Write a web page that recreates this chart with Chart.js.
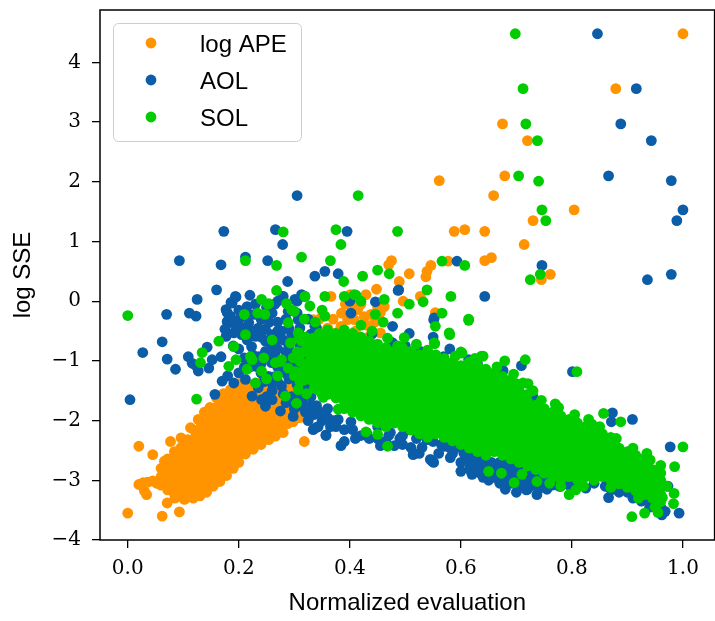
<!DOCTYPE html>
<html>
<head>
<meta charset="utf-8">
<script src="https://cdn.jsdelivr.net/npm/chart.js@4.4.1/dist/chart.umd.min.js"></script>
<style>
html, body { margin: 0; padding: 0; overflow: hidden; background: #fff; }
#wrap { width: 720px; height: 621px; }
</style>
</head>
<body>
<div id="wrap"><canvas id="chart" width="720" height="621"></canvas></div>
<script>
// Series names and colours (legend order)
const seriesNames = ['log APE', 'AOL', 'SOL'];
const seriesColors = ['#ff9300', '#0b5da8', '#00cc00'];

// Axis ticks
const xTicks = [0, 0.2, 0.4, 0.6, 0.8, 1.0];
const xTickLabels = ['0.0', '0.2', '0.4', '0.6', '0.8', '1.0'];
const yTicks = [-4, -3, -2, -1, 0, 1, 2, 3, 4];
const yTickLabels = ['\u22124', '\u22123', '\u22122', '\u22121', '0', '1', '2', '3', '4'];

// log APE: solid diagonal band, read column by column [x, [y...]]
const apeBand = [
    [0.060, [-2.80, -2.94, -3.08]],
    [0.072, [-2.64, -2.78, -2.92, -3.06, -3.16]],
    [0.084, [-2.52, -2.66, -2.80, -2.94, -3.08, -3.22]],
    [0.096, [-2.45, -2.59, -2.73, -2.87, -3.01, -3.15, -3.26]],
    [0.108, [-2.32, -2.46, -2.60, -2.74, -2.88, -3.02, -3.16, -3.26]],
    [0.120, [-2.16, -2.30, -2.44, -2.58, -2.72, -2.86, -3.00, -3.14, -3.22]],
    [0.132, [-2.03, -2.17, -2.31, -2.45, -2.59, -2.73, -2.87, -3.01, -3.15]],
    [0.144, [-1.88, -2.02, -2.16, -2.30, -2.44, -2.58, -2.72, -2.86, -3.00, -3.10]],
    [0.156, [-1.79, -1.93, -2.07, -2.21, -2.35, -2.49, -2.63, -2.77, -2.91, -3.00]],
    [0.168, [-1.68, -1.82, -1.96, -2.10, -2.24, -2.38, -2.52, -2.66, -2.80, -2.90]],
    [0.180, [-1.61, -1.75, -1.89, -2.03, -2.17, -2.31, -2.45, -2.59, -2.73, -2.80]],
    [0.192, [-1.52, -1.66, -1.80, -1.94, -2.08, -2.22, -2.36, -2.50, -2.64]],
    [0.204, [-1.47, -1.61, -1.75, -1.89, -2.03, -2.17, -2.31, -2.45, -2.56]],
    [0.216, [-1.42, -1.56, -1.70, -1.84, -1.98, -2.12, -2.26, -2.40]],
    [0.228, [-1.39, -1.53, -1.67, -1.81, -1.95, -2.09, -2.23, -2.36]],
    [0.240, [-1.36, -1.50, -1.64, -1.78, -1.92, -2.06, -2.20, -2.30]],
    [0.252, [-1.40, -1.54, -1.68, -1.82, -1.96, -2.10, -2.22]],
    [0.264, [-1.38, -1.52, -1.66, -1.80, -1.94, -2.08, -2.18]],
    [0.276, [-1.45, -1.59, -1.73, -1.87, -2.01, -2.10]],
    [0.288, [-1.50, -1.64, -1.78, -1.92, -2.02]],
    [0.300, [-1.58, -1.72, -1.86]]
];

const apeEdge = [
    [0.020, -3.07], [0.028, -3.04], [0.036, -3.03], [0.045, -3.01], [0.052, -3.05], [0.034, -3.24],
    [0.030, -3.18], [0.000, -3.55], [0.020, -2.43], [0.045, -2.57], [0.062, -3.60], [0.071, -3.38],
    [0.093, -3.53], [0.077, -2.35], [0.096, -2.29], [0.066, -2.68], [0.113, -2.12], [0.127, -1.98],
    [0.138, -1.86], [0.148, -1.78], [0.160, -1.62], [0.172, -1.55], [0.085, -3.30], [0.102, -3.32],
    [0.118, -3.30], [0.130, -3.26], [0.142, -3.20], [0.154, -3.10], [0.166, -3.02], [0.178, -2.92],
    [0.190, -2.80], [0.200, -2.70], [0.212, -2.56], [0.226, -2.48], [0.240, -2.40], [0.254, -2.32],
    [0.266, -2.26], [0.280, -2.20], [0.288, -2.05], [0.298, -2.02], [0.310, -1.95], [0.318, -1.80],
    [0.312, -1.64], [0.295, -1.40], [0.318, -2.35], [0.337, -1.82], [0.319, -1.31], [0.305, -1.50],
    [0.330, -1.20], [0.345, -1.05], [0.362, -0.90], [0.340, -1.45], [0.358, -1.28], [0.385, -0.92],
    [0.410, -0.78], [0.150, -3.05], [0.241, -0.42], [0.200, -1.38], [0.185, -1.48]
];

const apeUpper = [
    [1.000, 4.48], [0.879, 3.56], [0.675, 2.97], [0.720, 2.69], [0.561, 2.02], [0.679, 2.10],
    [0.659, 1.77], [0.804, 1.53], [0.730, 1.35], [0.588, 1.17], [0.607, 1.20], [0.643, 1.17],
    [0.714, 0.95], [0.475, 0.68], [0.470, 0.61], [0.577, 0.67], [0.643, 0.68], [0.655, 0.73],
    [0.546, 0.60], [0.539, 0.50], [0.537, 0.41], [0.507, 0.46], [0.489, 0.33], [0.745, 0.36],
    [0.761, 0.45], [0.448, 0.20], [0.429, 0.11], [0.527, 0.08], [0.496, 0.00], [0.462, -0.09],
    [0.455, -0.19], [0.554, -0.19], [0.366, 0.08], [0.401, 0.11], [0.414, -0.14], [0.426, -0.26],
    [0.438, -0.22], [0.408, -0.31], [0.450, -0.11], [0.455, -0.53], [0.384, -0.42], [0.396, -0.31],
    [0.375, -0.53], [0.334, -0.31], [0.420, -0.05], [0.392, -0.05], [0.430, -0.40], [0.445, -0.35],
    [0.384, -0.56], [0.435, -0.59], [0.410, -0.50], [0.360, -0.45], [0.350, -0.65], [0.345, -0.30],
    [0.320, -0.60], [0.385, -0.20], [0.370, -0.30], [0.405, -0.05]
];

// AOL
const aolSparse = [
    [0.846, 4.48], [0.916, 3.56], [0.888, 2.97], [0.943, 2.69], [0.866, 2.10], [0.979, 2.02],
    [1.000, 1.53], [0.989, 1.35], [0.593, 0.67], [0.746, 0.60], [0.936, 0.36], [0.979, 0.45],
    [0.643, 0.08], [0.488, 0.19], [0.446, -0.01], [0.552, -0.28], [0.305, 1.77], [0.173, 1.17],
    [0.266, 1.20], [0.279, 0.95], [0.395, 1.17], [0.093, 0.68], [0.168, 0.61], [0.212, 0.74],
    [0.252, 0.68], [0.337, 0.42], [0.355, 0.50], [0.379, 0.46], [0.288, 0.33], [0.160, 0.19],
    [0.125, 0.03], [0.194, 0.08], [0.220, 0.10], [0.279, 0.08], [0.305, 0.00], [0.313, 0.11],
    [0.402, -0.20], [0.400, 0.00], [0.070, -0.22], [0.111, -0.20], [0.123, -0.25], [0.004, -1.65],
    [0.027, -0.86], [0.062, -0.68], [0.071, -0.97], [0.086, -1.14], [0.109, -0.93], [0.123, -1.08],
    [0.127, -1.17], [0.143, -0.77], [0.146, -1.12], [0.152, -0.98], [0.157, -1.56], [0.170, -1.34],
    [0.168, -0.93], [0.116, -1.04], [0.487, 0.18], [0.319, 0.08]
];

const aolCluster = [
    [0.177, -0.59], [0.182, -0.36], [0.179, -0.19], [0.188, -0.03], [0.198, -0.36], [0.215, -0.09],
    [0.186, -0.02], [0.195, 0.07], [0.177, -0.14], [0.200, -0.31], [0.218, -0.36], [0.179, -0.34],
    [0.175, -0.47], [0.191, -0.53], [0.205, -0.56], [0.230, -0.59], [0.248, -0.47], [0.259, -0.56],
    [0.277, -0.50], [0.280, 0.08], [0.301, 0.03], [0.289, -0.17], [0.307, -0.31], [0.223, -0.76],
    [0.248, -0.67], [0.271, -0.64], [0.236, -0.93], [0.248, -0.84], [0.259, -1.03], [0.230, -1.09],
    [0.284, -0.98], [0.301, -0.87], [0.254, -1.26], [0.280, -1.17], [0.301, -1.26], [0.259, -1.37],
    [0.277, -1.42], [0.212, -1.31], [0.191, -1.37], [0.224, -1.59], [0.248, -1.76], [0.241, -1.65],
    [0.266, -1.26], [0.275, -1.84], [0.298, -1.93], [0.307, -1.76], [0.320, -1.86], [0.334, -2.15],
    [0.343, -2.10], [0.357, -2.24], [0.384, -2.42], [0.214, -0.20], [0.240, -0.30], [0.260, -0.20],
    [0.270, -0.35], [0.290, -0.45], [0.300, -0.60], [0.310, -0.75], [0.320, -0.90], [0.315, -1.05],
    [0.320, -1.20], [0.325, -1.40], [0.310, -1.55], [0.330, -1.60], [0.340, -1.75], [0.200, -0.80],
    [0.210, -0.95], [0.220, -1.10], [0.240, -1.20], [0.270, -1.10], [0.290, -0.75], [0.260, -0.75],
    [0.235, -0.45], [0.285, -0.30], [0.265, -0.90], [0.290, -1.30], [0.260, -1.50], [0.235, -1.45],
    [0.200, -1.20], [0.180, -1.25], [0.190, -0.75], [0.215, -0.65], [0.300, -1.10], [0.310, -0.45],
    [0.330, -0.55], [0.325, -0.30], [0.340, -0.45], [0.350, -0.60], [0.330, -1.00], [0.345, -1.30],
    [0.350, -1.55], [0.360, -1.80], [0.370, -2.00], [0.365, -2.10], [0.313, -0.76], [0.325, -0.87],
    [0.319, -1.09], [0.337, -0.42], [0.250, -0.10], [0.228, -0.22], [0.265, -0.05], [0.295, -1.60],
    [0.285, -1.70], [0.250, -1.60], [0.185, -0.25], [0.195, -0.45], [0.210, -0.45], [0.225, -0.50],
    [0.240, -0.60], [0.255, -0.35], [0.270, -0.50], [0.280, -0.65], [0.295, -0.55], [0.305, -0.20],
    [0.315, -0.60], [0.285, -0.85], [0.270, -0.80], [0.255, -0.95], [0.240, -1.05], [0.225, -0.90],
    [0.210, -1.10], [0.245, -1.35], [0.270, -1.35], [0.285, -1.20], [0.295, -1.00], [0.305, -1.40],
    [0.320, -1.50], [0.315, -1.70], [0.300, -1.80], [0.260, -1.65], [0.280, -1.55], [0.335, -1.90],
    [0.350, -2.00], [0.325, -2.00], [0.200, -0.15], [0.230, -0.05], [0.270, 0.00]
];

const aolUnder = [
    [0.339, -2.12], [0.357, -2.25], [0.455, -2.42], [0.514, -2.57], [0.545, -2.65], [0.551, -2.70],
    [0.571, -2.43], [0.581, -2.62], [0.616, -2.79], [0.632, -2.87], [0.355, -1.90], [0.402, -2.02],
    [0.379, -1.98], [0.426, -1.87], [0.450, -2.10], [0.473, -2.20], [0.504, -2.15], [0.539, -2.32],
    [0.571, -2.30], [0.605, -2.54], [0.459, -2.40], [0.548, -2.68], [0.516, -2.55], [0.490, -2.30],
    [0.600, -2.70], [0.620, -2.60], [0.590, -2.45], [0.530, -2.45], [0.430, -2.20], [0.410, -2.30],
    [0.390, -2.15], [0.330, -1.75], [0.345, -1.85], [0.360, -1.95], [0.375, -2.10], [0.390, -2.35],
    [0.405, -2.15], [0.420, -2.25], [0.435, -2.30], [0.450, -2.30], [0.465, -2.35], [0.480, -2.42],
    [0.495, -2.40], [0.510, -2.45], [0.525, -2.55], [0.560, -2.55], [0.585, -2.55], [0.615, -2.65],
    [0.630, -2.75], [0.645, -2.80], [0.660, -2.82], [0.660, -2.95], [0.675, -2.85], [0.690, -2.90],
    [0.690, -3.05], [0.705, -2.95], [0.720, -3.00], [0.720, -3.15], [0.735, -3.05], [0.750, -3.05],
    [0.765, -3.08], [0.780, -3.10], [0.795, -3.08], [0.810, -3.06], [0.840, -3.05], [0.870, -3.15],
    [0.885, -3.20], [0.900, -3.20], [0.915, -3.25], [0.930, -3.30], [0.945, -3.38], [0.960, -3.45],
    [0.477, -0.70], [0.530, -0.86], [0.569, -0.93], [0.614, -0.98], [0.507, -0.54], [0.477, -0.42],
    [0.527, -0.84], [0.551, -0.31], [0.475, -0.69], [0.655, -1.26], [0.440, -0.55], [0.500, -0.75],
    [0.550, -0.60], [0.580, -0.80], [0.630, -1.05], [0.460, -0.90], [0.520, -1.00],
    [0.685, -2.75], [0.695, -2.80], [0.705, -2.90], [0.715, -2.82], [0.725, -2.95], [0.735, -2.90],
    [0.745, -2.95], [0.725, -3.10], [0.740, -3.15], [0.710, -3.10], [0.755, -3.15], [0.765, -3.00],
    [0.670, -2.70], [0.655, -2.70], [0.640, -2.65], [0.625, -2.60], [0.605, -2.50], [0.580, -2.45],
    [0.565, -2.40], [0.550, -2.35], [0.600, -2.85], [0.620, -2.90], [0.650, -3.00], [0.670, -3.05],
    [0.680, -3.15], [0.700, -3.20], [0.495, -2.25], [0.520, -2.30], [0.470, -2.25]
];

const aolRight = [
    [0.676, -1.16], [0.709, -1.08], [0.663, -1.37], [0.801, -1.18], [0.873, -1.87], [0.871, -2.02],
    [0.909, -1.98], [0.977, -2.44], [0.864, -2.32], [0.682, -2.99], [0.718, -3.16], [0.737, -3.24],
    [0.700, -3.02], [0.727, -2.85], [0.754, -3.07], [0.777, -3.10], [0.802, -2.96], [0.866, -3.29],
    [0.825, -3.13], [0.891, -2.99], [0.920, -2.93], [0.932, -3.19], [0.945, -3.24], [0.953, -3.38],
    [0.973, -3.10], [0.968, -3.52], [0.962, -3.58], [0.993, -3.55], [0.659, -2.94], [0.682, -2.70],
    [0.855, -2.26], [0.730, -1.60], [0.691, -3.04], [0.632, -2.85], [0.616, -2.82], [0.730, -1.82],
    [0.679, -2.20], [0.640, -2.95], [0.700, -2.85], [0.715, -3.05], [0.745, -3.00], [0.760, -2.90],
    [0.790, -3.05], [0.860, -3.10], [0.875, -3.15], [0.910, -3.30], [0.925, -3.35], [0.940, -3.45],
    [0.955, -3.50], [0.950, -3.30], [0.935, -3.10], [0.948, -3.38]
];

// SOL: solid core read column by column [x, [y...]]
const solCore = [
    [0.318, [-0.84, -1.08, -1.32]],
    [0.330, [-0.72, -0.84, -0.96, -1.08, -1.20, -1.32]],
    [0.345, [-0.54, -0.66, -0.78, -0.90, -1.02, -1.14, -1.26, -1.38, -1.50]],
    [0.360, [-0.48, -0.60, -0.72, -0.84, -0.96, -1.08, -1.20, -1.32, -1.44, -1.56]],
    [0.375, [-0.54, -0.66, -0.78, -0.90, -1.02, -1.14, -1.26, -1.38, -1.50, -1.62]],
    [0.390, [-0.48, -0.60, -0.72, -0.84, -0.96, -1.08, -1.20, -1.32, -1.44, -1.56, -1.68, -1.80]],
    [0.405, [-0.54, -0.66, -0.78, -0.90, -1.02, -1.14, -1.26, -1.38, -1.50, -1.62, -1.74, -1.86]],
    [0.420, [-0.60, -0.72, -0.84, -0.96, -1.08, -1.20, -1.32, -1.44, -1.56, -1.68, -1.80, -1.92]],
    [0.435, [-0.66, -0.78, -0.90, -1.02, -1.14, -1.26, -1.38, -1.50, -1.62, -1.74, -1.86, -1.98]],
    [0.450, [-0.72, -0.84, -0.96, -1.08, -1.20, -1.32, -1.44, -1.56, -1.68, -1.80, -1.92, -2.04]],
    [0.465, [-0.78, -0.90, -1.02, -1.14, -1.26, -1.38, -1.50, -1.62, -1.74, -1.86, -1.98, -2.10]],
    [0.480, [-0.84, -0.96, -1.08, -1.20, -1.32, -1.44, -1.56, -1.68, -1.80, -1.92, -2.04]],
    [0.495, [-0.90, -1.02, -1.14, -1.26, -1.38, -1.50, -1.62, -1.74, -1.86, -1.98, -2.10]],
    [0.510, [-0.84, -0.96, -1.08, -1.20, -1.32, -1.44, -1.56, -1.68, -1.80, -1.92, -2.04, -2.16]],
    [0.525, [-0.90, -1.02, -1.14, -1.26, -1.38, -1.50, -1.62, -1.74, -1.86, -1.98, -2.10, -2.22]],
    [0.540, [-0.96, -1.08, -1.20, -1.32, -1.44, -1.56, -1.68, -1.80, -1.92, -2.04, -2.16, -2.28]],
    [0.555, [-0.90, -1.02, -1.14, -1.26, -1.38, -1.50, -1.62, -1.74, -1.86, -1.98, -2.10, -2.22]],
    [0.570, [-0.96, -1.08, -1.20, -1.32, -1.44, -1.56, -1.68, -1.80, -1.92, -2.04, -2.16, -2.28]],
    [0.585, [-1.02, -1.14, -1.26, -1.38, -1.50, -1.62, -1.74, -1.86, -1.98, -2.10, -2.22, -2.34]],
    [0.600, [-1.08, -1.20, -1.32, -1.44, -1.56, -1.68, -1.80, -1.92, -2.04, -2.16, -2.28, -2.40]],
    [0.615, [-1.02, -1.14, -1.26, -1.38, -1.50, -1.62, -1.74, -1.86, -1.98, -2.10, -2.22, -2.34, -2.46]],
    [0.630, [-1.08, -1.20, -1.32, -1.44, -1.56, -1.68, -1.80, -1.92, -2.04, -2.16, -2.28, -2.40, -2.52]],
    [0.645, [-1.14, -1.26, -1.38, -1.50, -1.62, -1.74, -1.86, -1.98, -2.10, -2.22, -2.34, -2.46, -2.58]],
    [0.660, [-1.20, -1.32, -1.44, -1.56, -1.68, -1.80, -1.92, -2.04, -2.16, -2.28, -2.40, -2.52]],
    [0.675, [-1.26, -1.38, -1.50, -1.62, -1.74, -1.86, -1.98, -2.10, -2.22, -2.34, -2.46, -2.58]],
    [0.690, [-1.32, -1.44, -1.56, -1.68, -1.80, -1.92, -2.04, -2.16, -2.28, -2.40, -2.52, -2.64]],
    [0.705, [-1.50, -1.62, -1.74, -1.86, -1.98, -2.10, -2.22, -2.34, -2.46, -2.58, -2.70]],
    [0.720, [-1.56, -1.68, -1.80, -1.92, -2.04, -2.16, -2.28, -2.40, -2.52, -2.64, -2.76]],
    [0.735, [-1.74, -1.86, -1.98, -2.10, -2.22, -2.34, -2.46, -2.58, -2.70, -2.82]],
    [0.750, [-1.80, -1.92, -2.04, -2.16, -2.28, -2.40, -2.52, -2.64, -2.76, -2.88]],
    [0.765, [-1.86, -1.98, -2.10, -2.22, -2.34, -2.46, -2.58, -2.70, -2.82, -2.94]],
    [0.780, [-1.92, -2.04, -2.16, -2.28, -2.40, -2.52, -2.64, -2.76, -2.88, -3.00]],
    [0.795, [-1.98, -2.10, -2.22, -2.34, -2.46, -2.58, -2.70, -2.82, -2.94]],
    [0.810, [-2.04, -2.16, -2.28, -2.40, -2.52, -2.64, -2.76, -2.88, -3.00]],
    [0.825, [-2.10, -2.22, -2.34, -2.46, -2.58, -2.70, -2.82, -2.94]],
    [0.840, [-2.16, -2.28, -2.40, -2.52, -2.64, -2.76, -2.88, -3.00]],
    [0.855, [-2.22, -2.34, -2.46, -2.58, -2.70, -2.82, -2.94]],
    [0.870, [-2.28, -2.40, -2.52, -2.64, -2.76, -2.88, -3.00]],
    [0.885, [-2.46, -2.58, -2.70, -2.82, -2.94, -3.06]],
    [0.900, [-2.52, -2.64, -2.76, -2.88, -3.00, -3.12]],
    [0.915, [-2.58, -2.70, -2.82, -2.94, -3.06, -3.18]],
    [0.930, [-2.64, -2.76, -2.88, -3.00, -3.12, -3.24]],
    [0.945, [-2.82, -2.94, -3.06, -3.18, -3.30]],
    [0.960, [-2.88, -3.00, -3.12, -3.24, -3.36]]
];

const solEdge = [
    [0.554, -0.42], [0.580, -0.56], [0.553, -0.71], [0.600, -0.85], [0.637, -0.92], [0.659, -1.26],
    [0.629, -1.09], [0.486, -0.75], [0.498, -0.61], [0.446, -0.22], [0.579, -0.53], [0.614, -0.32],
    [0.552, -0.70], [0.602, -0.87], [0.679, -1.00], [0.716, -0.98], [0.809, -1.18], [0.657, -1.28],
    [0.721, -1.38], [0.687, -1.51], [0.857, -1.88], [0.888, -2.02], [0.836, -2.06], [0.776, -1.78],
    [0.640, -0.92], [0.630, -1.09], [0.679, -1.45], [0.712, -1.37], [0.775, -1.79], [0.834, -2.06],
    [0.741, -1.96], [0.855, -2.30], [0.873, -2.60], [0.902, -2.57], [0.923, -2.69], [0.941, -2.66],
    [0.955, -2.94], [0.971, -3.10], [0.963, -3.29], [0.984, -3.22], [1.000, -2.44], [0.985, -2.77],
    [0.983, -3.39], [0.908, -3.61], [0.931, -3.55], [0.955, -3.54], [0.904, -3.04], [0.696, -3.04],
    [0.737, -3.02], [0.795, -3.24], [0.807, -3.16], [0.673, -2.88], [0.821, -3.10], [0.945, -3.07],
    [0.468, -2.43], [0.450, -2.23], [0.429, -2.19], [0.837, -2.69], [0.896, -2.57], [0.650, -2.85],
    [0.710, -2.90], [0.760, -3.05], [0.780, -3.10], [0.870, -3.12], [0.920, -3.30], [0.950, -3.45],
    [0.338, -0.35], [0.350, -0.15], [0.420, -0.40], [0.440, -0.50], [0.460, -0.35], [0.468, -0.62],
    [0.495, -0.78], [0.520, -0.72], [0.540, -0.82], [0.590, -0.92], [0.625, -0.96], [0.665, -1.10],
    [0.695, -1.22], [0.700, -1.38], [0.730, -1.50], [0.745, -1.66], [0.770, -1.72], [0.805, -1.90],
    [0.830, -1.98], [0.850, -2.10], [0.880, -2.30], [0.910, -2.46], [0.935, -2.55], [0.960, -2.75],
    [0.305, -0.85], [0.312, -1.02], [0.302, -1.18], [0.315, -1.22], [0.322, -1.55], [0.308, -0.62],
    [0.298, -0.95], [0.322, -0.70], [0.334, -0.62], [0.336, -1.46]
];

const solSparse = [
    [0.698, 4.48], [0.712, 3.56], [0.717, 2.97], [0.738, 2.69], [0.704, 2.10], [0.740, 2.01],
    [0.415, 1.77], [0.746, 1.53], [0.753, 1.35], [0.486, 1.17], [0.566, 0.67], [0.607, 0.60],
    [0.423, 0.42], [0.450, 0.52], [0.471, 0.46], [0.539, 0.19], [0.582, 0.08], [0.462, 0.03],
    [0.411, 0.10], [0.420, 0.00], [0.507, -0.05], [0.532, -0.01], [0.486, -0.20], [0.566, -0.20],
    [0.725, 0.36], [0.743, 0.45], [0.614, -0.30], [0.280, 1.16], [0.375, 1.20], [0.384, 0.95],
    [0.212, 0.68], [0.268, 0.60], [0.313, 0.74], [0.365, 0.68], [0.389, 0.33], [0.268, 0.18],
    [0.241, 0.03], [0.254, -0.04], [0.286, -0.04], [0.300, -0.17], [0.319, 0.08], [0.328, -0.08],
    [0.355, 0.08], [0.390, 0.08], [0.408, 0.11], [0.000, -0.24], [0.210, -0.22], [0.234, -0.20],
    [0.247, -0.22], [0.355, -0.25], [0.124, -1.64], [0.134, -0.86], [0.131, -1.03], [0.164, -0.67],
    [0.182, -1.09], [0.195, -0.98], [0.191, -0.76], [0.212, -0.56], [0.215, -1.14], [0.224, -0.98],
    [0.230, -1.37], [0.241, -1.17], [0.245, -0.95], [0.266, -1.03], [0.277, -0.98], [0.289, -1.12],
    [0.284, -1.59], [0.304, -1.71], [0.307, -1.48], [0.293, -0.70], [0.307, -0.53], [0.289, -0.36],
    [0.295, -0.14], [0.313, -0.67], [0.320, -0.60], [0.318, -0.30], [0.352, -1.61], [0.379, -1.81],
    [0.252, -0.05], [0.221, -0.93], [0.275, -1.01], [0.250, -1.30], [0.270, -1.25], [0.300, -1.25],
    [0.310, -1.00], [0.320, -0.85], [0.310, -1.35], [0.260, -0.65], [0.325, -1.15]
];

const fromColumns = cols => cols.flatMap(c => c[1].map(y => [c[0], y]));
const toXY = pts => pts.map(p => ({ x: p[0], y: p[1] }));

const apePoints = [...fromColumns(apeBand), ...apeEdge, ...apeUpper];
const aolPoints = [...aolSparse, ...aolCluster, ...aolUnder, ...aolRight];
const solPoints = [...fromColumns(solCore), ...solEdge, ...solSparse];

// Frame round the plot and the legend box, drawn after the points
const framePlugin = {
    id: 'frame',
    afterDraw(chart) {
        const { ctx, chartArea: a } = chart;
        ctx.save();
        ctx.strokeStyle = '#000';
        ctx.lineWidth = 1.5;
        ctx.strokeRect(a.left, a.top, a.right - a.left, a.bottom - a.top);

        // legend
        ctx.beginPath();
        ctx.roundRect(113.5, 23.5, 188, 118, 5);
        ctx.fillStyle = 'rgba(255,255,255,0.8)';
        ctx.fill();
        ctx.strokeStyle = '#cccccc';
        ctx.lineWidth = 1;
        ctx.stroke();

        ctx.font = '24px "Liberation Sans"';
        ctx.textBaseline = 'alphabetic';
        ctx.textAlign = 'left';
        seriesNames.forEach((name, i) => {
            const rowY = 43 + i * 37;
            ctx.beginPath();
            ctx.arc(151, rowY, 5.4, 0, Math.PI * 2);
            ctx.fillStyle = seriesColors[i];
            ctx.fill();
            ctx.fillStyle = '#000';
            ctx.fillText(name, 200, rowY + 9);
        });
        ctx.restore();
    }
};

const tickFont = { family: 'DejaVu Serif', size: 20 };
const titleFont = { family: 'Liberation Sans', size: 24, lineHeight: 1 };
const gridOpts = { drawOnChartArea: false, drawTicks: true, tickLength: 8, color: '#000', tickColor: '#000', lineWidth: 1.3 };

new Chart(document.getElementById('chart'), {
    type: 'scatter',
    data: {
        datasets: [
            { label: seriesNames[0], data: toXY(apePoints), backgroundColor: seriesColors[0], order: 3 },
            { label: seriesNames[1], data: toXY(aolPoints), backgroundColor: seriesColors[1], order: 2 },
            { label: seriesNames[2], data: toXY(solPoints), backgroundColor: seriesColors[2], order: 1 }
        ]
    },
    options: {
        responsive: false,
        animation: false,
        events: [],
        layout: { padding: { top: 10, left: 0, right: 0, bottom: 0 } },
        elements: { point: { radius: 5.4, borderWidth: 0, hoverRadius: 5.4 } },
        plugins: { legend: { display: false }, tooltip: { enabled: false } },
        scales: {
            x: {
                type: 'linear',
                min: -0.05,
                max: 1.057,
                afterFit: s => { s.height = 81; s.paddingLeft = 0; s.paddingRight = 0; },
                afterBuildTicks: s => { s.ticks = xTicks.map(v => ({ value: v })); },
                ticks: { callback: (v, i) => xTickLabels[i], font: tickFont, color: '#000', padding: 9, autoSkip: false, maxRotation: 0 },
                grid: gridOpts,
                border: { display: false },
                title: { display: true, text: 'Normalized evaluation', font: titleFont, color: '#000', padding: { top: 0, bottom: 6 } }
            },
            y: {
                type: 'linear',
                min: -4,
                max: 4.878,
                afterFit: s => { s.width = 100; s.paddingTop = 0; s.paddingBottom = 0; },
                afterBuildTicks: s => { s.ticks = yTicks.map(v => ({ value: v })); },
                ticks: { callback: (v, i) => yTickLabels[i], font: tickFont, color: '#000', padding: 11, autoSkip: false },
                grid: gridOpts,
                border: { display: false },
                title: { display: true, text: 'log SSE', font: titleFont, color: '#000', padding: { top: 11, bottom: 0 } }
            }
        }
    },
    plugins: [framePlugin]
});
</script>
</body>
</html>
